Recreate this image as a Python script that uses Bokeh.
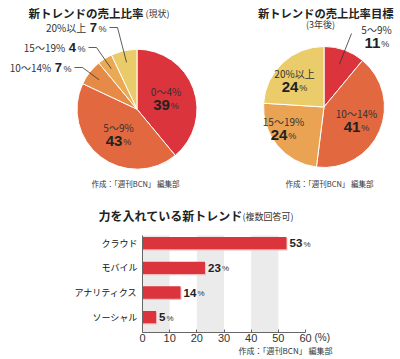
import math
from bokeh.plotting import figure
from bokeh.models import Range1d, FixedTicker, LinearAxis, ColumnDataSource
from bokeh.core.properties import value
from bokeh.embed import file_html
from bokeh.resources import INLINE

# ---------------- data ----------------
pie1_title = "新トレンドの売上比率"
pie1_sub = "(現状)"
pie1_cats = ["0～4%", "5～9%", "10～14%", "15～19%", "20%以上"]
pie1_vals = [39, 43, 7, 4, 7]

pie2_title = "新トレンドの売上比率目標"
pie2_sub = "(3年後)"
pie2_cats = ["5～9%", "10～14%", "15～19%", "20%以上"]
pie2_vals = [11, 41, 24, 24]

bar_title = "力を入れている新トレンド"
bar_sub = "(複数回答可)"
bar_cats = ["クラウド", "モバイル", "アナリティクス", "ソーシャル"]
bar_vals = [53, 23, 14, 5]
bar_ticks = [0, 10, 20, 30, 40, 50, 60]
bar_unit = "(%)"
credit = "作成：「週刊BCN」 編集部"

# ---------------- styles / layout ----------------
JP = "Noto Sans CJK JP"
NUM = "Liberation Sans"
RED = "#DB343C"
pie1_colors = ["#DB343C", "#E2683F", "#E68A47", "#EAAA55", "#EACB69"]
pie2_colors = ["#DB343C", "#E2683F", "#EAA352", "#EACD6A"]

W, H = 400, 359


def X(px):
    return px


def Y(py):
    return H - py


p = figure(width=W, height=H, x_range=Range1d(0, W), y_range=Range1d(0, H),
           output_backend="svg", toolbar_location=None,
           x_axis_location=None, y_axis_location=None, min_border=0)
p.outline_line_color = None
p.grid.visible = False

# bar chart ranges: value 0..60 spans page x 142..305; rows span page y 235..332
BX0, BX1 = X(142), X(305)
BXMAX = 60
sx = BXMAX / (BX1 - BX0)
BY_LO, BY_HI = -0.62, 3.31
BYB, BYT = Y(332), Y(235)
sy = (BY_HI - BY_LO) / (BYT - BYB)
p.extra_x_ranges = {"bx": Range1d(0 - BX0 * sx, BXMAX + (W - BX1) * sx)}
p.extra_y_ranges = {"by": Range1d(BY_LO - BYB * sy, BY_HI + (H - BYT) * sy)}


def text(x, y, s, size, bold=False, align="left", font=JP, color="#222", baseline="middle"):
    p.text(x=[x], y=[y], text=[s], text_font=value(font), text_font_size=value(size),
           text_font_style="bold" if bold else "normal", text_align=align,
           text_baseline=baseline, text_color=color)


def pct(cx, cy, num, size_num=15, size_pct=9):
    nw = len(str(num)) * size_num * 0.56
    pw = size_pct * 0.9
    start = cx - (nw + pw + 1) / 2
    text(start + nw, cy, str(num), "%dpx" % size_num, bold=True, align="right", font=NUM)
    text(start + nw + 1, cy - 1, "%", "%dpx" % size_pct, align="left", font=NUM, color="#333")


def pie(cx, cy, r, vals, colors):
    total = sum(vals)
    cum = 0
    starts, ends, mids = [], [], []
    for v in vals:
        a0 = math.pi / 2 - 2 * math.pi * cum / total
        cum += v
        a1 = math.pi / 2 - 2 * math.pi * cum / total
        starts.append(a0)
        ends.append(a1)
        mids.append((a0 + a1) / 2)
    src = ColumnDataSource(dict(x=[X(cx)] * len(vals), y=[Y(cy)] * len(vals),
                                s=starts, e=ends, c=colors))
    p.wedge(x="x", y="y", radius=r, start_angle="s", end_angle="e", direction="clock",
            fill_color="c", line_color="white", line_width=1, source=src)
    return mids


# ---------- pie 1 ----------
c1 = (136.5, 108.7)
r1 = 60
mids1 = pie(c1[0], c1[1], r1, pie1_vals, pie1_colors)
text(X(28), Y(12), pie1_title, "11.5px", bold=True)
text(X(145), Y(13), pie1_sub, "9px", color="#333")
text(X(135), Y(183), credit, "7.5px", align="center", color="#333")

inside1 = {0: (165.5, 91), 1: (118, 127)}
for i, (lx, ly) in inside1.items():
    text(X(lx), Y(ly), pie1_cats[i], "10px", align="center", color="#333")
    pct(X(lx), Y(ly + 13), pie1_vals[i])

outside1 = {2: (71, 67), 3: (85, 47), 4: (106, 27)}
for i, (ex, ey) in outside1.items():
    pw = 9
    nw = len(str(pie1_vals[i])) * 7.3
    text(X(ex), Y(ey + 1), "%", "9px", align="right", font=NUM, color="#333")
    text(X(ex - pw - 0.5), Y(ey), str(pie1_vals[i]), "13px", bold=True, align="right", font=NUM)
    text(X(ex - pw - nw - 4), Y(ey), pie1_cats[i], "10px", align="right", color="#333")
    m = mids1[i]
    tx = c1[0] + 0.8 * r1 * math.cos(m)
    ty = c1[1] - 0.8 * r1 * math.sin(m)
    p.line(x=[X(ex + 3), X(ex + 11), X(tx)], y=[Y(ey), Y(ey), Y(ty)],
           line_color="#333", line_width=0.8)

# ---------- pie 2 ----------
c2 = (323.5, 106.5)
r2 = 60.5
mids2 = pie(c2[0], c2[1], r2, pie2_vals, pie2_colors)
text(X(393), Y(12), pie2_title, "11.3px", bold=True, align="right")
text(X(320), Y(24), pie2_sub, "9px", align="center", color="#333")
text(X(329), Y(183), credit, "7.5px", align="center", color="#333")

inside2 = {1: (356, 113), 2: (283, 121), 3: (294, 73)}
for i, (lx, ly) in inside2.items():
    text(X(lx), Y(ly), pie2_cats[i], "10px", align="center", color="#333")
    pct(X(lx), Y(ly + 13), pie2_vals[i])

ox, oy = 376, 29
text(X(ox), Y(oy), pie2_cats[0], "10px", align="center", color="#333")
pct(X(ox), Y(oy + 13), pie2_vals[0])
m = mids2[0]
tx = c2[0] + 0.75 * r2 * math.cos(m)
ty = c2[1] - 0.75 * r2 * math.sin(m)
p.line(x=[X(351), X(tx)], y=[Y(33), Y(ty)], line_color="#333", line_width=0.8)

# ---------- bar chart ----------
text(X(98), Y(215), bar_title, "12px", bold=True)
text(X(242), Y(216), bar_sub, "9px", color="#333")
text(X(314), Y(337), bar_unit, "10px", font=NUM, color="#333")
text(X(332), Y(350), credit, "8px", align="right", color="#333")

band_l = bar_ticks[0:-1:2]
band_r = bar_ticks[1::2]
p.quad(left=band_l, right=band_r, bottom=BY_LO, top=BY_HI, fill_color="#EBEBEB",
       line_color=None, x_range_name="bx", y_range_name="by")

ys = list(range(len(bar_cats) - 1, -1, -1))
p.hbar(y=[y - 0.05 for y in ys], left=0, right=[v + 0.35 for v in bar_vals], height=0.5,
       fill_color="#F2BDBD", line_color=None, x_range_name="bx", y_range_name="by")
p.hbar(y=ys, left=0, right=bar_vals, height=0.5, fill_color=RED, line_color=None,
       x_range_name="bx", y_range_name="by")

num_off = [3] * len(bar_vals)
pct_off = [3 + len(str(v)) * 6.5 + 1 for v in bar_vals]
bsrc = ColumnDataSource(dict(x=bar_vals, y=ys, t=[str(v) for v in bar_vals],
                             p=["%"] * len(bar_vals), no=num_off, po=pct_off))
p.text(x="x", y="y", text="t", x_offset="no", source=bsrc, text_font=value(NUM),
       text_font_size=value("11.5px"), text_font_style="bold", text_baseline="middle",
       text_color="#222", x_range_name="bx", y_range_name="by")
p.text(x="x", y="y", text="p", x_offset="po", y_offset=1, source=bsrc, text_font=value(NUM),
       text_font_size=value("8px"), text_baseline="middle", text_color="#333",
       x_range_name="bx", y_range_name="by")

xa = LinearAxis(x_range_name="bx", y_range_name="by", ticker=FixedTicker(ticks=bar_ticks),
                bounds=(0, BXMAX), fixed_location=BY_LO)
xa.major_tick_in = 3
xa.major_tick_out = 0
xa.minor_tick_line_color = None
xa.axis_line_color = "#666"
xa.major_tick_line_color = "#666"
xa.major_label_standoff = 1
xa.major_label_text_font = NUM
xa.major_label_text_font_size = "11px"
xa.major_label_text_color = "#333"
p.add_layout(xa, "below")

ya = LinearAxis(x_range_name="bx", y_range_name="by", ticker=FixedTicker(ticks=ys),
                bounds=(BY_LO, BY_HI), fixed_location=0)
ya.major_label_overrides = {y: c for y, c in zip(ys, bar_cats)}
ya.major_tick_in = 0
ya.major_tick_out = 0
ya.minor_tick_line_color = None
ya.axis_line_color = "#666"
ya.major_label_standoff = 5
ya.major_label_text_font = JP
ya.major_label_text_font_size = "9px"
ya.major_label_text_color = "#111"
p.add_layout(ya, "left")

open("out.html", "w").write(file_html(p, INLINE))
